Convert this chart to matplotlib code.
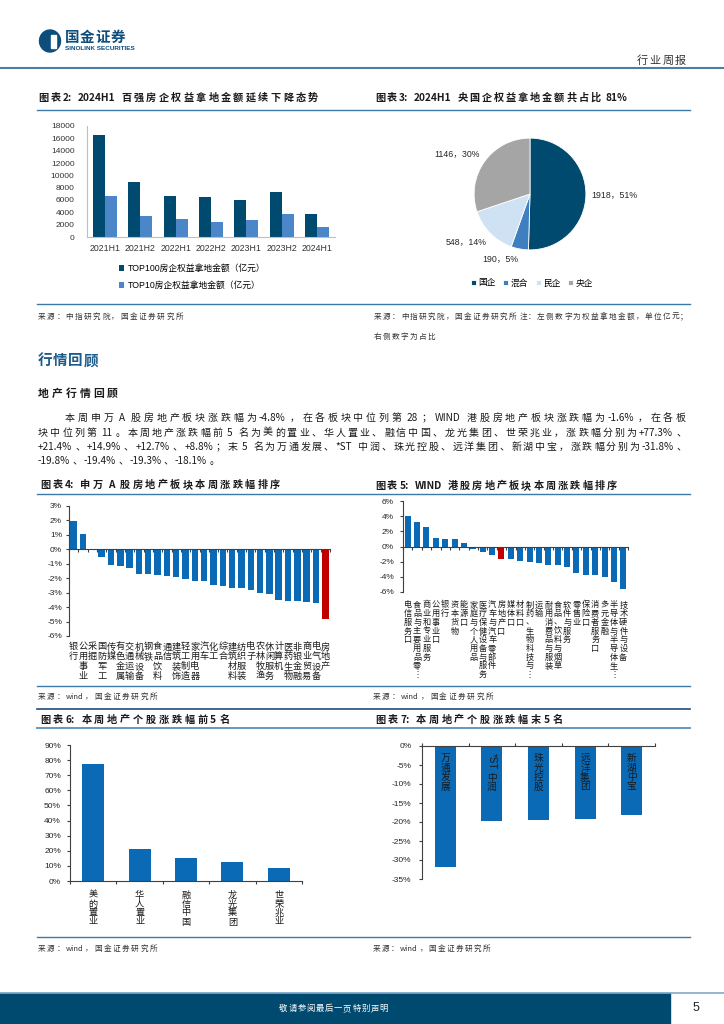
import re
import unicodedata
import matplotlib
matplotlib.use("Agg")
import matplotlib.pyplot as plt
import numpy as np
from matplotlib.lines import Line2D
from matplotlib.patches import Rectangle, Ellipse

W, H = 724, 1024
CJK = ["Noto Sans CJK SC", "DejaVu Sans"]
NUM = ["Liberation Sans", "Noto Sans CJK SC", "DejaVu Sans"]
plt.rcParams["font.family"] = CJK

# 图表2 百强房企权益拿地金额
periods = ["2021H1", "2021H2", "2022H1", "2022H2", "2023H1", "2023H2", "2024H1"]
top100 = [16500, 8850, 6600, 6450, 6000, 7350, 3800]
top10 = [6600, 3350, 2850, 2450, 2750, 3800, 1550]
series2 = ["TOP100房企权益拿地金额（亿元）", "TOP10房企权益拿地金额（亿元）"]

# 图表3 权益拿地金额按企业性质
owners = ["国企", "混合", "民企", "央企"]
land_amt = [1918, 190, 548, 1146]
land_pct = ["51%", "5%", "14%", "30%"]

# 图表4 申万行业周涨跌幅(%)
sw_names = ["银行", "公用事业", "采掘", "国防军工", "传媒", "有色金属", "交通运输",
            "机械设备", "钢铁", "食品饮料", "通信", "建筑装饰", "轻工制造", "家用电器",
            "汽车", "化工", "综合", "建筑材料", "纺织服装", "电子", "农林牧渔",
            "休闲服务", "计算机", "医药生物", "非银金融", "商业贸易", "电气设备", "房地产"]
sw_chg = [1.95, 1.05, -0.03, -0.56, -1.06, -1.13, -1.31, -1.69, -1.69, -1.81, -1.85,
          -1.94, -2.08, -2.19, -2.19, -2.48, -2.55, -2.69, -2.69, -2.84, -3.02, -3.11,
          -3.52, -3.59, -3.59, -3.66, -3.70, -4.8]

# 图表5 WIND港股行业周涨跌幅(%)
hk_names = ["电信服务口", "食品与主要用品零⋮", "商业和专业服务", "公用事业口", "银行",
            "资本货物", "能源口", "家庭与个人用品", "医疗保健设备与服务", "汽车与汽车零部件",
            "房地产口", "媒体口", "材料口", "制药、生物科技与⋮", "运输", "耐用消费品与服装",
            "食品、饮料与烟草", "软件与服务", "零售业", "保险口", "消费者服务口", "多元金融",
            "半导体与半导体生⋮", "技术硬件与设备"]
hk_chg = [4.08, 3.29, 2.54, 1.14, 1.01, 1.01, 0.48, -0.39, -0.75, -1.10, -1.6, -1.67,
          -1.93, -2.10, -2.24, -2.46, -2.46, -2.76, -3.51, -3.73, -3.82, -4.08, -4.69, -5.61]

# 图表6/7 个股涨跌幅(%)
top5_names = ["美的置业", "华人置业", "融信中国", "龙光集团", "世荣兆业"]
top5_chg = [77.3, 21.4, 14.9, 12.7, 8.8]
bot5_names = ["万通发展", "*ST 中润", "珠光控股", "远洋集团", "新湖中宝"]
bot5_chg = [-31.8, -19.8, -19.4, -19.3, -18.1]

para = [
    "本周申万 A 股房地产板块涨跌幅为-4.8%，在各板块中位列第 28；WIND 港股房地产板块涨跌幅为-1.6%，在各板",
    "块中位列第 11。本周地产涨跌幅前 5 名为美的置业、华人置业、融信中国、龙光集团、世荣兆业，涨跌幅分别为+77.3%、",
    "+21.4%、+14.9%、+12.7%、+8.8%；末 5 名为万通发展、*ST 中润、珠光控股、远洋集团、新湖中宝，涨跌幅分别为-31.8%、",
    "-19.8%、-19.4%、-19.3%、-18.1%。",
]

DARK = "#004a70"
BLUE = "#0a6ab6"
RED = "#c00000"
TXT = "#1a1a1a"

fig = plt.figure(figsize=(W / 100, H / 100), dpi=100)
R = fig.canvas.get_renderer()


def put(x, y, s, **kw):
    kw.setdefault("va", "center")
    kw.setdefault("color", TXT)
    return fig.text(x / W, 1 - y / H, s, **kw)


def hline(y, x0=37, x1=690, color="#3f78a4", lw=1.0):
    fig.add_artist(Line2D([x0 / W, x1 / W], [1 - y / H] * 2, color=color, lw=lw))


def spread(s, x0, y, size, x1=None, gap=0.6, **kw):
    # 按字/英文词排版, 给定 x1 时两端对齐; 空格并入前一个字的宽度
    em = size * 100 / 72
    toks, slots = [], []
    for tok in re.findall(r"[!-~]+| +|.", s):
        if tok[0] == " ":
            if slots:
                slots[-1] += 0.25 * em
            continue
        if unicodedata.east_asian_width(tok[0]) in "WF":
            w = em
        else:
            t = put(0, 0, tok, fontsize=size, **kw)
            w = t.get_window_extent(R).width + 0.1 * em
            t.remove()
        toks.append(tok)
        slots.append(w)
    if x1 is not None:
        gap = (x1 - x0 - sum(slots)) / (len(toks) - 1)
    x = x0
    base = y + 0.36 * em
    for tok, w in zip(toks, slots):
        put(x, base, tok, fontsize=size, va="baseline", **kw)
        x += w + gap


def panel(l, t, r, b):
    return fig.add_axes([l / W, 1 - b / H, (r - l) / W, (b - t) / H])


def style(ax, color="#404040"):
    for s in ("top", "right"):
        ax.spines[s].set_visible(False)
    for s in ("left", "bottom", "top"):
        ax.spines[s].set_color(color)
        ax.spines[s].set_linewidth(0.8)
    ax.tick_params(colors=color, labelcolor="#262626", width=0.8, length=2.5, pad=2.5)


def vlabel(ax, i, name, y0, dy, size, yval=0, coord="axes fraction"):
    # 竖排类目标签, 从坐标轴向下 y0 像素开始
    em = size * 100 / 72
    top = y0 - dy / 2
    for tok in re.findall(r"[ -~]+|.", name):
        if tok[0].isascii() and tok.strip():
            word = tok.strip()
            h = len(word) * 0.55 * em
            ax.annotate(word, (i, yval), xycoords=("data", coord), xytext=(0, -(top + h / 2)),
                        textcoords="offset pixels", rotation=-90, ha="center", va="center",
                        fontsize=size, family=NUM, color=TXT, annotation_clip=False)
            top += h + (0.4 * dy if tok.endswith(" ") else 0)
        else:
            ax.annotate(tok, (i, yval), xycoords=("data", coord), xytext=(0, -(top + dy / 2)),
                        textcoords="offset pixels", ha="center", va="center",
                        fontsize=size, family=CJK, color=TXT, annotation_clip=False)
            top += dy


# ---- 页眉 ----
fig.add_artist(Ellipse((50 / W, 1 - 41 / H), 21 / W, 22 / H, color="#0d4d7c"))
fig.add_artist(Rectangle((51 / W, 1 - 48 / H), 5 / W, 13 / H, color="white"))
spread("国金证券", 65, 37, 10.5, x1=125, weight="bold", color="#0d4d7c")
put(65, 48, "SINOLINK SECURITIES", fontsize=4.6, weight="bold", family=NUM, color="#0d4d7c")
spread("行业周报", 637, 60, 8, x1=686, color="#333333")
hline(68, 0, 724, color="#4a7fa8", lw=1.5)

# ---- 图表2 / 图表3 ----
spread("图表2: 2024H1 百强房企权益拿地金额延续下降态势", 38, 97, 7.3, x1=318, weight="bold")
spread("图表3: 2024H1 央国企权益拿地金额共占比 81%", 375, 97, 7.3, x1=628, weight="bold")
hline(110)

ax2 = panel(87, 126, 335, 237)
x = np.arange(len(periods))
ax2.bar(x - 0.17, top100, 0.34, color=DARK, label=series2[0])
ax2.bar(x + 0.17, top10, 0.34, color="#4a86c8", label=series2[1])
ax2.set_xlim(-0.5, len(periods) - 0.5)
ax2.set_ylim(0, 18000)
yt = list(range(0, 18001, 2000))
ax2.set_yticks(yt, labels=[str(v) for v in yt], fontsize=6, fontfamily=NUM)
ax2.set_xticks(x, labels=periods, fontsize=6.3, fontfamily=NUM)
style(ax2, "#bfbfbf")
ax2.tick_params(length=0, labelcolor="#333333")
ax2.tick_params(axis="y", pad=9)
ax2.tick_params(axis="x", pad=5)
ax2.legend(loc="upper left", bbox_to_anchor=(119 / W, 1 - 264 / H), bbox_transform=fig.transFigure,
           frameon=False, prop={"family": NUM, "size": 6.3}, handlelength=0.6, handleheight=0.6,
           handletextpad=0.4, labelspacing=0.9, borderpad=0, borderaxespad=0)

ax3 = panel(473, 137, 587, 251)
wedges, _ = ax3.pie(land_amt, colors=[DARK, "#3f7fbf", "#cfe2f3", "#a5a5a5"], startangle=90,
                    counterclock=False, wedgeprops=dict(linewidth=0.6, edgecolor="white"))
ax3.set_xlim(-1.02, 1.02)
ax3.set_ylim(-1.02, 1.02)
for w, a, p in zip(wedges, land_amt, land_pct):
    ang = np.deg2rad((w.theta1 + w.theta2) / 2)
    cx, cy = np.cos(ang), np.sin(ang)
    ha = "left" if cx > 0.3 else ("right" if cx < -0.1 else "center")
    va = "top" if cy < -0.3 else ("bottom" if cy > 0.3 else "center")
    ax3.text(1.1 * cx, 1.1 * cy, f"{a}，{p}", ha=ha, va=va, fontsize=6.3, family=NUM, color="#262626")
ax3.legend(wedges, owners, ncol=4, loc="center", bbox_to_anchor=(532 / W, 1 - 283 / H),
           bbox_transform=fig.transFigure, frameon=False, prop={"family": CJK, "size": 6.3},
           handlelength=0.6, handleheight=0.6, handletextpad=0.3, columnspacing=0.8,
           borderpad=0, borderaxespad=0)

hline(304)
spread("来源：中指研究院，国金证券研究所", 38, 316, 5.5, x1=183, color="#333333")
spread("来源：中指研究院，国金证券研究所 注：左侧数字为权益拿地金额，单位亿元；", 374, 316, 5.5,
       x1=688, color="#333333")
spread("右侧数字为占比", 374, 336, 5.5, x1=435, color="#333333")

# ---- 正文 ----
spread("行情回顾", 38, 360, 10.5, x1=98, weight="bold", color="#1b5b8a")
spread("地产行情回顾", 38, 393, 7.8, x1=118, weight="bold")
spread(para[0], 65, 417, 7.2, x1=686)
spread(para[1], 38, 432, 7.2, x1=686)
spread(para[2], 38, 446, 7.2, x1=686)
spread(para[3], 38, 460, 7.2, gap=1.2)

# ---- 图表4 / 图表5 ----
spread("图表4: 申万 A 股房地产板块本周涨跌幅排序", 40, 484, 7.3, x1=280, weight="bold")
spread("图表5: WIND 港股房地产板块本周涨跌幅排序", 375, 485, 7.3, x1=617, weight="bold")
hline(494)

ax4 = panel(69, 506, 330, 636)
x4 = np.arange(len(sw_names))
ax4.bar(x4, sw_chg, 0.7, color=[RED if n == "房地产" else BLUE for n in sw_names])
ax4.set_xlim(-0.5, len(sw_names) - 0.5)
ax4.set_ylim(-6, 3)
yt = list(range(-6, 4))
ax4.set_yticks(yt, labels=[f"{v}%" for v in yt], fontsize=6, fontfamily=NUM)
ax4.set_xticks(np.arange(-0.5, len(sw_names)), labels=[])
style(ax4)
ax4.spines["bottom"].set_position(("data", 0))
for i, n in enumerate(sw_names):
    vlabel(ax4, i, n, 11, 9.7, 6.6)

ax5 = panel(403, 501, 628, 592)
x5 = np.arange(len(hk_names))
ax5.bar(x5, hk_chg, 0.65, color=[RED if n == "房地产口" else BLUE for n in hk_names])
ax5.set_xlim(-0.5, len(hk_names) - 0.5)
ax5.set_ylim(-6, 6)
yt = list(range(-6, 7, 2))
ax5.set_yticks(yt, labels=[f"{v}%" for v in yt], fontsize=6, fontfamily=NUM)
ax5.set_xticks(np.arange(-0.5, len(hk_names)), labels=[])
style(ax5)
ax5.tick_params(axis="y", pad=4)
ax5.spines["bottom"].set_position(("data", 0))
for i, n in enumerate(hk_names):
    vlabel(ax5, i, n, 13, 8.7, 5.9)

hline(686)
spread("来源：wind，国金证券研究所", 38, 696, 5.5, x1=157, color="#333333")
spread("来源：wind，国金证券研究所", 373, 696, 5.5, x1=493, color="#333333")

# ---- 图表6 / 图表7 ----
hline(709, color="#1f4e79", lw=1.2)
spread("图表6: 本周地产个股涨跌幅前5名", 40, 719, 7.3, x1=230, weight="bold")
spread("图表7: 本周地产个股涨跌幅末5名", 375, 719, 7.3, x1=563, weight="bold")
hline(728, color="#5b8db8", lw=1.3)

ax6 = panel(70, 745, 302, 881)
x6 = np.arange(len(top5_names))
ax6.bar(x6, top5_chg, 0.47, color=BLUE)
ax6.set_xlim(-0.5, len(top5_names) - 0.5)
ax6.set_ylim(0, 90)
yt = list(range(0, 91, 10))
ax6.set_yticks(yt, labels=[f"{v}%" for v in yt], fontsize=6, fontfamily=NUM)
ax6.set_xticks(np.arange(-0.5, len(top5_names)), labels=[])
style(ax6)
ax6.tick_params(axis="y", pad=4)
for i, n in enumerate(top5_names):
    vlabel(ax6, i, n, 14, 9, 6.6)

ax7 = panel(422, 746, 655, 879)
x7 = np.arange(len(bot5_names))
ax7.bar(x7, bot5_chg, 0.45, color=BLUE)
ax7.set_xlim(-0.5, len(bot5_names) - 0.5)
ax7.set_ylim(-35, 0)
yt = list(range(-35, 1, 5))
ax7.set_yticks(yt, labels=[f"{v}%" for v in yt], fontsize=6, fontfamily=NUM)
ax7.xaxis.tick_top()
ax7.set_xticks(np.arange(-0.5, len(bot5_names)), labels=[])
style(ax7)
ax7.spines["bottom"].set_visible(False)
ax7.spines["top"].set_visible(True)
ax7.tick_params(axis="y", pad=5)
for i, n in enumerate(bot5_names):
    vlabel(ax7, i, n, 12, 9.5, 7, yval=0, coord="data")

hline(937)
spread("来源：wind，国金证券研究所", 38, 948, 5.5, x1=157, color="#333333")
spread("来源：wind，国金证券研究所", 373, 948, 5.5, x1=490, color="#333333")

# ---- 页脚 ----
fig.add_artist(Rectangle((0, 0), 670 / W, 31 / H, color="#00496f"))
hline(993, 0, 724, color="#7fa9c9", lw=1.2)
spread("敬请参阅最后一页特别声明", 279, 1008, 6, x1=388, color="white")
put(696, 1008, "5", fontsize=9, family=NUM, ha="center", color="#222222")

fig.savefig("out.png", dpi=100)
